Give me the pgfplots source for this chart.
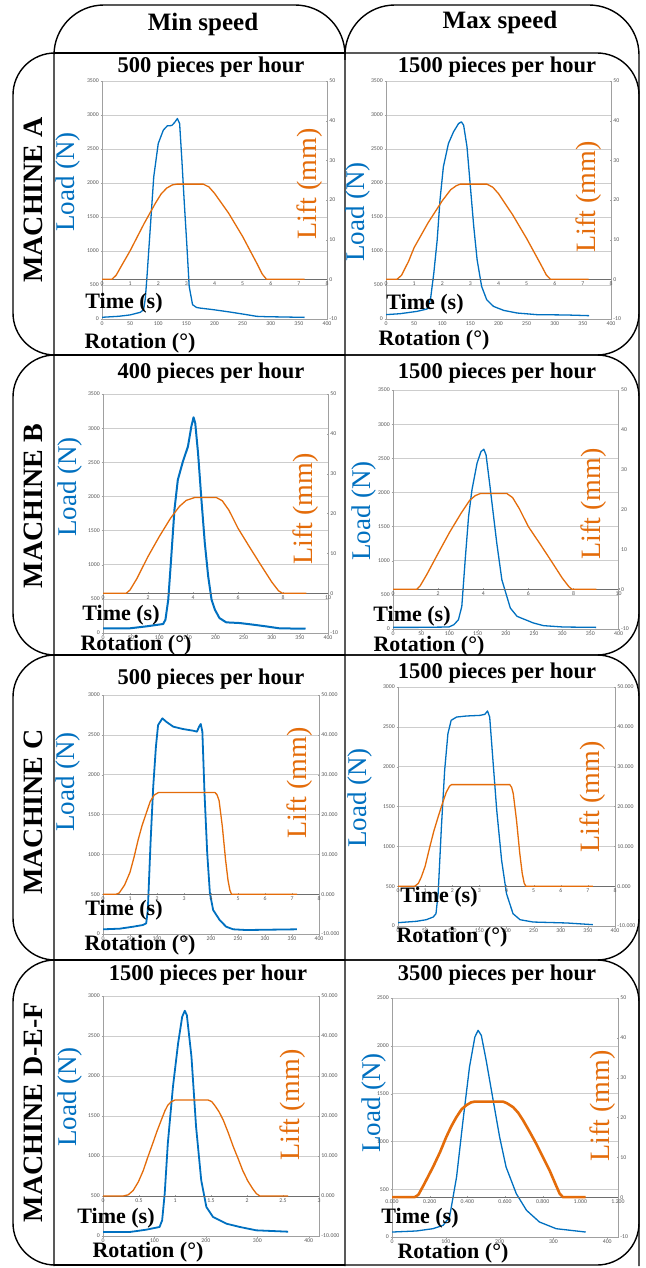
\documentclass[border=0pt]{standalone}
\usepackage{pgfplots}
\pgfplotsset{compat=1.18}
\usepackage{fontspec}
\setmainfont{Liberation Serif}
\newfontfamily\carlito{Carlito}
\definecolor{loadblue}{RGB}{0,112,192}
\definecolor{liftorange}{RGB}{228,108,10}
\definecolor{tickgray}{RGB}{89,89,89}
\definecolor{gridgray}{RGB}{205,205,205}
\definecolor{axgray}{RGB}{160,160,160}
\definecolor{timegray}{RGB}{110,110,110}
\pgfplotsset{
  tl/.style={/pgf/number format/assume math mode=true, /pgf/number format/1000 sep={},
    tick label style={font=\carlito\fontsize{5.8}{6}\selectfont, text=tickgray, inner sep=1.5pt}},
  loadax/.style={tl, scale only axis, anchor=north west, xmin=0, ymin=0,
    axis x line*=bottom, axis y line*=left, axis line style={-, draw=axgray, line width=0.6pt},
    ymajorgrids, grid style={gridgray, line width=0.6pt}, major tick length=1.5pt,
    tick style={axgray}, tick align=outside},
  liftax/.style={tl, scale only axis, anchor=north west, xmin=0, ymin=-10, ymax=50,
    axis x line=middle, axis y line=right, axis line style={-, draw=axgray, line width=0.6pt},
    x axis line style={draw=timegray, line width=0.8pt},
    hide obscured x ticks=false, hide obscured y ticks=false, major tick length=1.5pt,
    tick style={axgray}, ytick={-10,0,...,50}},
  ld/.style={loadblue, line width=1.3pt, line join=round, no marks},
  lf/.style={liftorange, line width=1.3pt, line join=round, no marks},
  dec3/.style={/pgf/number format/.cd, fixed, fixed zerofill, precision=3},
}
\begin{document}
\begin{tikzpicture}
\begin{scope}[x=1pt,y=-1pt]
\useasboundingbox (0,0) rectangle (645,1268);
\fill[white] (0,0) rectangle (645,1268);
\end{scope}

% ---------------- A left
\begin{axis}[loadax, at={(102pt,-81pt)}, width=225pt, height=238pt, xmax=400, ymax=3500,
  xtick={0,50,...,400}, ytick={0,500,...,3500}]
\addplot[ld] coordinates {(0,25)(30,40)(50,60)(68,98)(74,137)(77,300)(80,626)(86,1359)(92,2092)(100,2581)(109,2777)(116,2840)(124,2845)(129,2889)(134,2948)(138,2874)(142,2337)(146,1750)(151,1066)(155,479)(161,210)(168,170)(174,161)(198,137)(227,103)(257,64)(275,39)(292,34)(360,24)};
\end{axis}
\begin{axis}[liftax, at={(102pt,-81pt)}, width=225pt, height=238pt, xmax=8, xtick={0,1,...,8}]
\addplot[lf] coordinates {(0,0)(0.35,0)(0.5,1)(0.7,3.5)(1.0,7.2)(1.5,14.1)(1.9,19.2)(2.1,21.5)(2.3,23.0)(2.5,23.8)(2.66,24)(3.6,24)(3.8,23.3)(4.0,21.7)(4.5,16.7)(5.0,10.8)(5.5,4.1)(5.7,1.3)(5.85,0)(7.2,0)};
\end{axis}

% ---------------- A right
\begin{axis}[loadax, at={(386pt,-81pt)}, width=225pt, height=238pt, xmax=400, ymax=3500,
  xtick={0,50,...,400}, ytick={0,500,...,3500}]
\addplot[ld] coordinates {(0,64)(25,78)(55,112)(73,147)(79,284)(85,675)(91,1163)(96,1750)(102,2239)(111,2581)(120,2752)(129,2874)(134,2899)(138,2850)(144,2532)(150,1946)(156,1359)(162,870)(170,479)(179,284)(191,186)(209,127)(233,88)(268,64)(321,59)(361,49)};
\end{axis}
\begin{axis}[liftax, at={(386pt,-81pt)}, width=225pt, height=238pt, xmax=8, xtick={0,1,...,8}]
\addplot[lf] coordinates {(0,0)(0.39,0)(0.55,1)(0.8,4.5)(1.0,8)(1.5,14.3)(2.0,19.8)(2.3,22.6)(2.5,23.6)(2.64,24)(3.59,24)(3.8,23.2)(4.0,21.6)(4.5,16.3)(5.0,10.3)(5.5,3.8)(5.7,1.1)(5.85,0)(7.2,0)};
\end{axis}

% ---------------- B left
\begin{axis}[loadax, at={(103pt,-394pt)}, width=225pt, height=239pt, xmax=400, ymax=3500,
  xtick={0,50,...,400}, ytick={0,500,...,3500}]
\addplot[ld, line width=2pt] coordinates {(0,68)(47,68)(77,97)(107,132)(111,195)(116,487)(121,1072)(127,1804)(133,2242)(142,2510)(151,2730)(157,3022)(161,3159)(164,3071)(169,2632)(175,1950)(181,1316)(187,829)(193,487)(199,341)(207,219)(219,156)(243,146)(267,122)(290,97)(314,68)(360,63)};
\end{axis}
\begin{axis}[liftax, at={(103pt,-394pt)}, width=225pt, height=239pt, xmax=10, xtick={0,2,...,10}]
\addplot[lf] coordinates {(0,0)(1.04,0)(1.2,0.8)(1.5,3.6)(2.0,9.2)(2.5,14.2)(3.0,18.8)(3.4,21.8)(3.7,23.3)(4.07,24)(5.04,24)(5.3,23.2)(5.6,20.8)(6.0,16.3)(6.5,11.7)(7.0,7.2)(7.5,2.8)(7.8,0.6)(7.97,0)(9.04,0)};
\end{axis}

% ---------------- B right
\begin{axis}[loadax, at={(393pt,-390pt)}, width=225.6pt, height=239pt, xmax=400, ymax=3500,
  xtick={0,50,...,400}, ytick={0,500,...,3500}]
\addplot[ld] coordinates {(0,24)(43,24)(99,29)(108,63)(116,136)(122,331)(128,1014)(134,1648)(140,2038)(149,2428)(156,2598)(161,2632)(165,2550)(172,2086)(184,1258)(193,721)(208,307)(220,185)(249,88)(267,49)(302,29)(360,24)};
\end{axis}
\begin{axis}[liftax, at={(393pt,-390pt)}, width=225.6pt, height=239pt, xmax=10, xtick={0,2,...,10}]
\addplot[lf] coordinates {(0,0)(1.06,0)(1.2,0.8)(1.5,3.7)(2.0,9.0)(2.5,14.2)(3.0,18.9)(3.4,22.3)(3.65,23.5)(3.87,24)(5.05,24)(5.3,23)(5.6,20.2)(6.0,15.7)(6.5,11.5)(7.0,7.2)(7.5,2.8)(7.8,0.6)(7.93,0)(9.01,0)};
\end{axis}

% ---------------- C left
\begin{axis}[loadax, at={(103pt,-695pt)}, width=216pt, height=239pt, xmax=400, ymax=3000,
  xtick={0,50,...,400}, ytick={0,500,...,3000}]
\addplot[ld, line width=1.8pt] coordinates {(0,59)(31,67)(56,92)(74,113)(80,134)(83,301)(88,1138)(93,1849)(98,2351)(102,2623)(110,2707)(117,2665)(130,2603)(148,2573)(167,2552)(174,2540)(178,2603)(181,2636)(184,2540)(188,1766)(193,1013)(198,510)(204,301)(216,176)(228,92)(241,59)(265,50)(359,59)};
\end{axis}
\begin{axis}[liftax, at={(103pt,-695pt)}, width=216pt, height=239pt, xmax=8, xtick={0,1,...,8},
  yticklabel style={dec3}]
\addplot[lf] coordinates {(0,0)(0.49,0)(0.6,0.3)(0.8,2.3)(1.0,5.5)(1.15,9.3)(1.3,13.6)(1.45,17.3)(1.6,20.3)(1.75,23.3)(1.9,24.9)(2.05,25.5)(4.15,25.5)(4.22,25.0)(4.3,23.5)(4.42,17)(4.54,8.6)(4.63,3.5)(4.7,1)(4.76,0)(7.19,0)};
\end{axis}

% ---------------- C right
\begin{axis}[loadax, at={(398pt,-687pt)}, width=217pt, height=239pt, xmax=400, ymax=3000,
  xtick={0,50,...,400}, ytick={0,500,...,3000}]
\addplot[ld] coordinates {(0,42)(34,59)(52,79)(65,113)(70,155)(74,406)(80,1243)(86,1954)(92,2414)(98,2582)(108,2623)(126,2636)(151,2644)(160,2657)(165,2699)(169,2623)(175,2080)(182,1452)(191,824)(200,406)(212,155)(225,79)(249,50)(311,38)(359,17)};
\end{axis}
\begin{axis}[liftax, at={(398pt,-687pt)}, width=217pt, height=239pt, xmax=8, xtick={0,1,...,8},
  yticklabel style={dec3}]
\addplot[lf] coordinates {(0,0)(0.62,0)(0.75,0.7)(0.86,2.3)(1.0,5.0)(1.17,9.8)(1.32,13.8)(1.48,17.4)(1.63,20.6)(1.78,23.6)(1.9,25.1)(1.97,25.5)(4.12,25.5)(4.19,24.8)(4.25,23.2)(4.37,16.5)(4.49,8.2)(4.58,3.2)(4.65,0.8)(4.71,0)(7.18,0)};
\end{axis}

% ---------------- D left
\begin{axis}[loadax, at={(103pt,-996pt)}, width=216pt, height=240pt, xmax=420, ymax=3000,
  xtick={0,100,...,400}, ytick={0,500,...,3000}]
\addplot[ld, line width=1.8pt] coordinates {(0,50)(52,50)(84,79)(110,113)(115,196)(120,530)(126,1156)(136,1865)(146,2407)(154,2741)(159,2816)(163,2762)(172,2241)(181,1364)(191,697)(201,363)(214,238)(240,154)(266,113)(298,71)(360,54)};
\end{axis}
\begin{axis}[liftax, at={(103pt,-996pt)}, width=216pt, height=240pt, xmax=3, xtick={0,0.5,1,1.5,2,2.5,3},
  yticklabel style={dec3}]
\addplot[lf] coordinates {(0,0)(0.28,0)(0.35,0.3)(0.42,1.4)(0.49,3.5)(0.56,6.4)(0.62,9.6)(0.69,13.1)(0.75,16.2)(0.81,19.0)(0.86,21.3)(0.90,22.7)(0.95,23.6)(1.00,24.0)(1.46,24.0)(1.51,23.6)(1.55,22.7)(1.61,21.1)(1.67,19.0)(1.74,15.8)(1.81,12.3)(1.88,9.2)(1.94,6.4)(2.01,3.8)(2.08,1.8)(2.13,0.6)(2.18,0)(2.57,0)};
\end{axis}

% ---------------- D right
\begin{axis}[loadax, at={(392pt,-998pt)}, width=226pt, height=239pt, xmax=420, ymax=2500,
  xtick={0,100,...,400}, ytick={0,500,...,2500}]
\addplot[ld] coordinates {(0,52)(45,63)(76,87)(95,122)(107,209)(120,628)(132,1220)(144,1778)(154,2092)(160,2162)(166,2109)(175,1848)(188,1430)(200,1046)(212,732)(231,453)(250,279)(274,157)(305,87)(360,52)};
\end{axis}
\begin{axis}[liftax, at={(392pt,-998pt)}, width=226pt, height=239pt, xmax=1.2, xtick={0,0.2,0.4,0.6,0.8,1,1.2},
  xticklabel style={dec3}]
\addplot[lf, line width=2.6pt] coordinates {(0,0)(0.12,0)(0.14,0.6)(0.17,3.2)(0.218,7.6)(0.255,11.3)(0.288,15.1)(0.315,17.8)(0.342,20.1)(0.37,22.1)(0.395,23.1)(0.42,23.8)(0.44,24)(0.589,24)(0.61,23.6)(0.643,22.6)(0.67,21.2)(0.696,19.3)(0.73,16.5)(0.766,13.4)(0.80,10.2)(0.837,6.7)(0.865,3.6)(0.89,0.9)(0.908,0)(1.028,0)};
\end{axis}

% ---------------- frames and text
\begin{scope}[x=1pt,y=-1pt]
\begin{scope}[line width=1.4pt, black]
\draw[rounded corners=50pt] (54,1266) -- (54,5) -- (345,5) -- (345,1266);
\draw[rounded corners=50pt] (345,60) -- (345,5) -- (639,5) -- (639,1266);
\foreach \t/\b in {53/355,355/655,655/960,960/1265} {
  \draw[rounded corners=42pt] (54,\t) -- (13,\t) -- (13,\b) -- (54,\b);
  \draw[rounded corners=42pt] (345,\t) -- (639,\t) -- (639,\b) -- (345,\b);
  \draw (54,\t) -- (345,\t);
  \draw (54,\b) -- (345,\b);
}
\end{scope}
\begin{scope}[every node/.style={inner sep=0pt}]
\node[font=\fontsize{25}{25}\selectfont\bfseries] at (203,24) {Min speed};
\node[font=\fontsize{25}{25}\selectfont\bfseries] at (500,22) {Max speed};
\foreach \y/\s in {200/MACHINE A,506/MACHINE B,812/MACHINE C,1112/MACHINE D-E-F}
  \node[rotate=90, font=\fontsize{28}{28}\selectfont\bfseries] at (33,\y) {\s};
\foreach \x/\y/\s in {211/67/500,497/67/1500,211/373/400,497/373/1500,211/679/500,497/673/1500,208/975/1500,497/975/3500}
  \node[font=\fontsize{22.5}{22.5}\selectfont\bfseries] at (\x,\y) {\s\ pieces per hour};
\foreach \x/\y in {68/182,358/212,70/487,364/511,68/782,360/798,70/1097,374/1103}
  \node[rotate=90, text=loadblue, font=\fontsize{27}{27}\selectfont] at (\x,\y) {Load (N)};
\foreach \x/\y in {310/184,589/197,306/509,594/504,300/783,593/797,293/1105,603/1106}
  \node[rotate=90, text=liftorange, font=\fontsize{28}{28}\selectfont] at (\x,\y) {Lift (mm)};
\foreach \x/\y in {124/303,425/304,121/615,412/616,124/910,439/897,116/1218,420/1218}
  \node[font=\fontsize{22}{22}\selectfont\bfseries] at (\x,\y) {Time (s)};
\foreach \x/\y in {140/343,434/340,136/645,429/646,140/945,452/937,148/1252,453/1253}
  \node[font=\fontsize{22}{22}\selectfont\bfseries] at (\x,\y) {Rotation (°)};
\end{scope}
\end{scope}
\end{tikzpicture}
\end{document}
